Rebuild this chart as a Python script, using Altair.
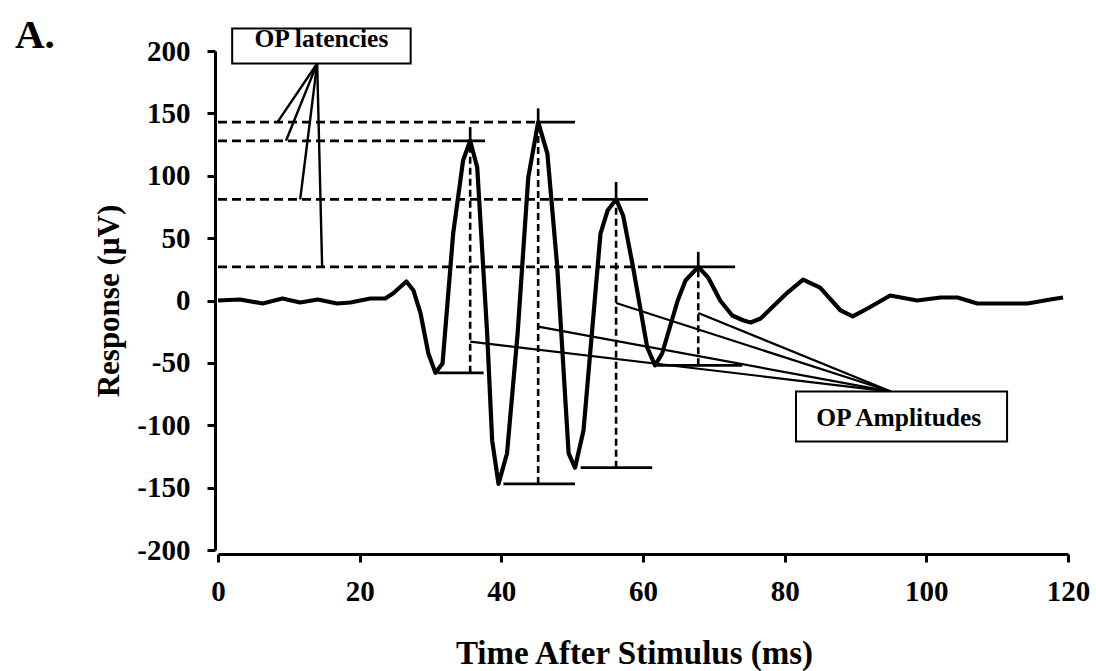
import altair as alt
import pandas as pd

FONT = "Liberation Serif"

# Averaged ERG trace (time in ms, response in microvolts)
time_ms = [0, 3.1, 6.3, 9.1, 11.6, 14.1, 16.8, 18.7, 21.5, 23.6, 24.7, 26.6, 27.6, 28.6,
           29.7, 30.7, 31.7, 33.2, 34.6, 35.6, 36.6, 38.0, 38.7, 39.6, 40.8, 42.3, 43.8,
           45.2, 46.5, 47.9, 49.5, 50.4, 51.6, 54.0, 55.0, 56.2, 57.2, 58.6, 60.6, 61.7,
           62.7, 64.9, 66.0, 67.8, 69.2, 70.9, 72.6, 74.2, 75.2, 76.6, 80.4, 82.6, 85.0,
           87.9, 89.6, 91.7, 94.9, 98.7, 102.0, 104.4, 107.2, 110.4, 114.3, 117.5, 119.3]
response_uv = [0, 0.8, -2.4, 1.6, -1.6, 0.8, -2.4, -1.6, 1.6, 1.6, 5.6, 15.2, 8.0, -10.4,
               -42.5, -58, -50.5, 53.7, 112.2, 128, 106.6, -26.5, -112, -147, -122.6, -26.5, 98.6,
               143, 117.8, 26.5, -122.6, -134, -104.2, 53.7, 72.1, 81, 68.1, 26.5, -37.7, -52,
               -42.5, 0, 16.0, 27, 18.4, 0, -12.0, -16.0, -17.6, -14.4, 6.4, 16.8, 10.4,
               -8.0, -12.8, -6.4, 4.0, 0, 2.4, 2.4, -2.4, -2.4, -2.4, 0.8, 2.4]

# Oscillatory potentials OP1..OP4
op_time = [35.6, 45.2, 56.2, 67.8]
op_peak = [128, 143, 81, 27]
op_trough = [-58, -147, -134, -52]
peak_bar_start = [33.2, 45.2, 51.8, 62.9]
peak_bar_end = [37.7, 50.4, 60.7, 73.0]
peak_cap_top = [139, 154, 95, 39]
trough_bar_start = [31.0, 40.3, 51.2, 62.0]
trough_bar_end = [37.5, 50.4, 61.3, 74.0]

# Leader lines from the callout boxes
latency_leader_end = [9.6, 8.4, 11.6, 14.7]
amplitude_leader_start = [-33, -21, -2, -10]
latency_apex = [14.0, 190]
amplitude_apex = [95.0, -73]

# Callout boxes
box_labels = ["OP latencies", "OP Amplitudes"]
box_left = [2.0, 81.6]
box_right = [27.2, 111.4]
box_bottom = [190, -113]
box_top = [218, -73]
box_text_t = [14.6, 96.1]
box_text_v = [203, -101]

x_ticks = [0, 20, 40, 60, 80, 100, 120]
y_ticks = [-200, -150, -100, -50, 0, 50, 100, 150, 200]

wave = pd.DataFrame({"t": time_ms, "v": response_uv})
ops = pd.DataFrame({
    "t": op_time, "peak": op_peak, "trough": op_trough,
    "pb0": peak_bar_start, "pb1": peak_bar_end, "cap": peak_cap_top,
    "tb0": trough_bar_start, "tb1": trough_bar_end,
    "zero": 0,
    "lat_end": latency_leader_end, "amp_start": amplitude_leader_start,
    "lat_apex_t": latency_apex[0], "lat_apex_v": latency_apex[1],
    "amp_apex_t": amplitude_apex[0], "amp_apex_v": amplitude_apex[1],
})
boxes = pd.DataFrame({
    "label": box_labels, "x0": box_left, "x1": box_right,
    "y0": box_bottom, "y1": box_top, "tx": box_text_t, "ty": box_text_v,
})

xs = alt.Scale(domain=[0, 120], nice=False, zero=False)
ys = alt.Scale(domain=[-200, 200], nice=False, zero=False)

common_axis = dict(
    grid=False, domainColor="black", domainWidth=3, tickColor="black", tickWidth=3,
    tickSize=8, labelFont=FONT, labelFontSize=29, labelFontWeight="bold",
    labelColor="black", labelExpr="'' + datum.value", labelOverlap=False,
    titleFont=FONT, titleFontWeight="bold", titleColor="black",
    titleBaseline="alphabetic", titleAlign="center",
)
xaxis = alt.Axis(values=x_ticks, offset=4, labelPadding=38, labelBaseline="alphabetic",
                 labelFlush=False, title="Time After Stimulus (ms)", titleFontSize=33,
                 titleX=416, titleY=109, **common_axis)
yaxis = alt.Axis(values=y_ticks, offset=3, labelPadding=17, title="Response (µV)",
                 titleFontSize=31, titleAngle=270, titleX=-97, titleY=249.5, **common_axis)


def X(field):
    return alt.X(field, type="quantitative", scale=xs, axis=xaxis)


def Y(field):
    return alt.Y(field, type="quantitative", scale=ys, axis=yaxis)


trace = alt.Chart(wave).mark_line(color="black", strokeWidth=4.2, strokeJoin="round").encode(
    x=X("t"), y=Y("v"), order="t:Q"
)

base = alt.Chart(ops)
dash_h = dict(color="black", strokeWidth=2.7, strokeDash=[9, 5])
dash_v = dict(color="black", strokeWidth=2.6, strokeDash=[7, 4])
solid = dict(color="black", strokeWidth=2.7)

latency_dash = base.mark_rule(**dash_h).encode(x=X("zero"), x2="pb0", y=Y("peak"))
peak_bar = base.mark_rule(**solid).encode(x=X("pb0"), x2="pb1", y=Y("peak"))
peak_cap = base.mark_rule(**solid).encode(x=X("t"), y=Y("peak"), y2="cap")
amp_dash = base.mark_rule(**dash_v).encode(x=X("t"), y=Y("trough"), y2="peak")
trough_bar = base.mark_rule(**solid).encode(x=X("tb0"), x2="tb1", y=Y("trough"))

latency_leaders = base.mark_rule(color="black", strokeWidth=2.4).encode(
    x=X("lat_apex_t"), y=Y("lat_apex_v"), x2="lat_end", y2="peak"
)
amplitude_leaders = base.mark_rule(color="black", strokeWidth=2.2).encode(
    x=X("amp_apex_t"), y=Y("amp_apex_v"), x2="t", y2="amp_start"
)

box_rects = alt.Chart(boxes).mark_rect(fill="white", stroke="black", strokeWidth=2).encode(
    x=X("x0"), x2="x1", y=Y("y0"), y2="y1"
)
box_text = alt.Chart(boxes).mark_text(
    font=FONT, fontSize=25.5, fontWeight="bold", color="black",
    align="center", baseline="alphabetic"
).encode(x=X("tx"), y=Y("ty"), text="label:N")

panel = alt.Chart(pd.DataFrame({"label": ["A."]})).mark_text(
    font=FONT, fontSize=41, fontWeight="bold", color="black",
    align="left", baseline="alphabetic"
).encode(x=alt.value(-203), y=alt.value(-3), text="label:N")

chart = alt.layer(
    latency_dash, amp_dash, peak_bar, peak_cap, trough_bar,
    latency_leaders, amplitude_leaders, trace, box_rects, box_text, panel
).properties(
    width=850, height=499,
    padding={"left": 218, "top": 51, "right": 28, "bottom": 121},
    autosize=alt.AutoSizeParams(type="none"),
    background="white",
).configure_view(stroke=None)

chart.save("out.html", embed_options={"renderer": "svg", "actions": False})
